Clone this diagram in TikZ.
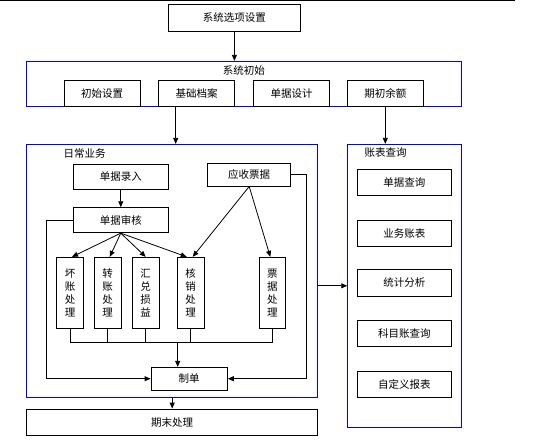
\documentclass[tikz,border=0pt]{standalone}
\usepackage{fontspec}
\setmainfont{Noto Sans CJK SC}
\usetikzlibrary{arrows.meta,positioning,calc}

\begin{document}
\begin{tikzpicture}[x=1pt, y=-1pt,
    bx/.style={draw, line width=0.9pt, minimum height=26.7pt, inner sep=0pt, font=\fontsize{10.5}{12}\selectfont},
    vbx/.style={draw, line width=0.9pt, minimum width=26.7pt, minimum height=71pt, inner sep=0pt, align=center, font=\fontsize{10.5}{13}\selectfont},
    grp/.style={draw=blue, line width=0.9pt, inner sep=0pt},
    ttl/.style={font=\fontsize{10.5}{12}\selectfont, inner sep=0pt},
    arr/.style={-{Triangle[length=6pt,width=5pt]}, line width=0.8pt},
    ln/.style={line width=0.8pt}
]
\useasboundingbox (0,0) rectangle (540,442);
\draw[line width=1.2pt] (0,0.6) -- (515,0.6);

% top part
\node[bx, minimum width=132.7pt] (opt) at (234.4,18) {系统选项设置};
\node[grp, minimum width=434.3pt, minimum height=45.4pt] (init) at (243.85,84) {};
\node[ttl] (initT) at (243.85,70) {系统初始};
\node[bx, minimum width=76pt] (csz) at (102.2,93.3) {初始设置};
\node[bx, minimum width=76pt] (jcda) at (196.7,93.3) {基础档案};
\node[bx, minimum width=76pt] (djsj) at (291.5,93.3) {单据设计};
\node[bx, minimum width=76pt] (qcye) at (385.3,93.3) {期初余额};

% groups
\node[grp, minimum width=291pt, minimum height=252.7pt] (daily) at (172.2,270.7) {};
\node[ttl, anchor=west] (dailyT) at (63.3,153.3) {日常业务};
\node[grp, minimum width=113.3pt, minimum height=283pt] (query) at (404.35,285.8) {};
\node[ttl, anchor=west] (queryT) at (364.3,152.7) {账表查询};

% queries
\node[bx, minimum width=94.7pt] (djcx) at (404.3,182.3) {单据查询};
\node[bx, minimum width=94.7pt] (ywzb) at (404.3,233.3) {业务账表};
\node[bx, minimum width=94.7pt] (tjfx) at (404.3,282.6) {统计分析};
\node[bx, minimum width=94.7pt] (kmzcx) at (404.3,333.3) {科目账查询};
\node[bx, minimum width=94.7pt] (zdybb) at (404.3,384.3) {自定义报表};

% daily work
\node[bx, minimum width=95pt, minimum height=25.3pt] (djlr) at (120.8,176.7) {单据录入};
\node[bx, minimum width=95pt, minimum height=25pt] (djsh) at (120.8,220.2) {单据审核};
\node[bx, minimum width=83pt, minimum height=22.7pt] (yspj) at (249.2,174.7) {应收票据};
\node[vbx] (hz) at (70,292.8) {坏\\账\\处\\理};
\node[vbx] (zz) at (107.7,292.8) {转\\账\\处\\理};
\node[vbx] (hd) at (145.7,292.8) {汇\\兑\\损\\益};
\node[vbx] (hx) at (190.7,292.8) {核\\销\\处\\理};
\node[vbx] (pj) at (272.3,292.8) {票\\据\\处\\理};
\node[bx, minimum width=76.3pt, minimum height=22.7pt] (zd) at (189.2,378.7) {制单};
\node[bx, minimum width=291pt, minimum height=26.3pt] (qm) at (172.2,422.2) {期末处理};
\coordinate (bus) at (177.7,342);

\draw[arr] (opt.south) -- (opt.south |- init.north);
\draw[arr] ([xshift=-21pt]jcda.south) -- ([xshift=-21pt]jcda.south |- daily.north);
\draw[arr] (qcye.south) -- (qcye.south |- query.north);
\draw[arr] (djlr) -- (djsh);
\draw[arr] (djsh.south) -- ([xshift=2pt]hz.north);
\draw[arr] (djsh.south) -- ([xshift=2pt]zz.north);
\draw[arr] (djsh.south) -- (hd.north);
\draw[arr] (djsh.south) -- ([xshift=-4pt]hx.north);
\draw[arr] (yspj.south) -- ([xshift=2pt]hx.north);
\draw[arr] (yspj.south) -- ([xshift=-2pt]pj.north);
\draw[arr] (djsh.west) -- ++(-26.3,0) |- (zd.west);
\draw[arr] (yspj.east) -- ++(15.3,0) |- (zd.east);
\draw[ln] (hz.south) |- (pj.south |- bus) -- (pj.south);
\draw[ln] (zz.south) -- (zz.south |- bus);
\draw[ln] (hd.south) -- (hd.south |- bus);
\draw[ln] (hx.south) -- (hx.south |- bus);
\draw[arr] (bus) -- (bus |- zd.north);
\draw[arr] (daily.south) -- (qm.north);
\draw[arr] (daily.east |- query.west) -- (query.west);
\end{tikzpicture}
\end{document}
